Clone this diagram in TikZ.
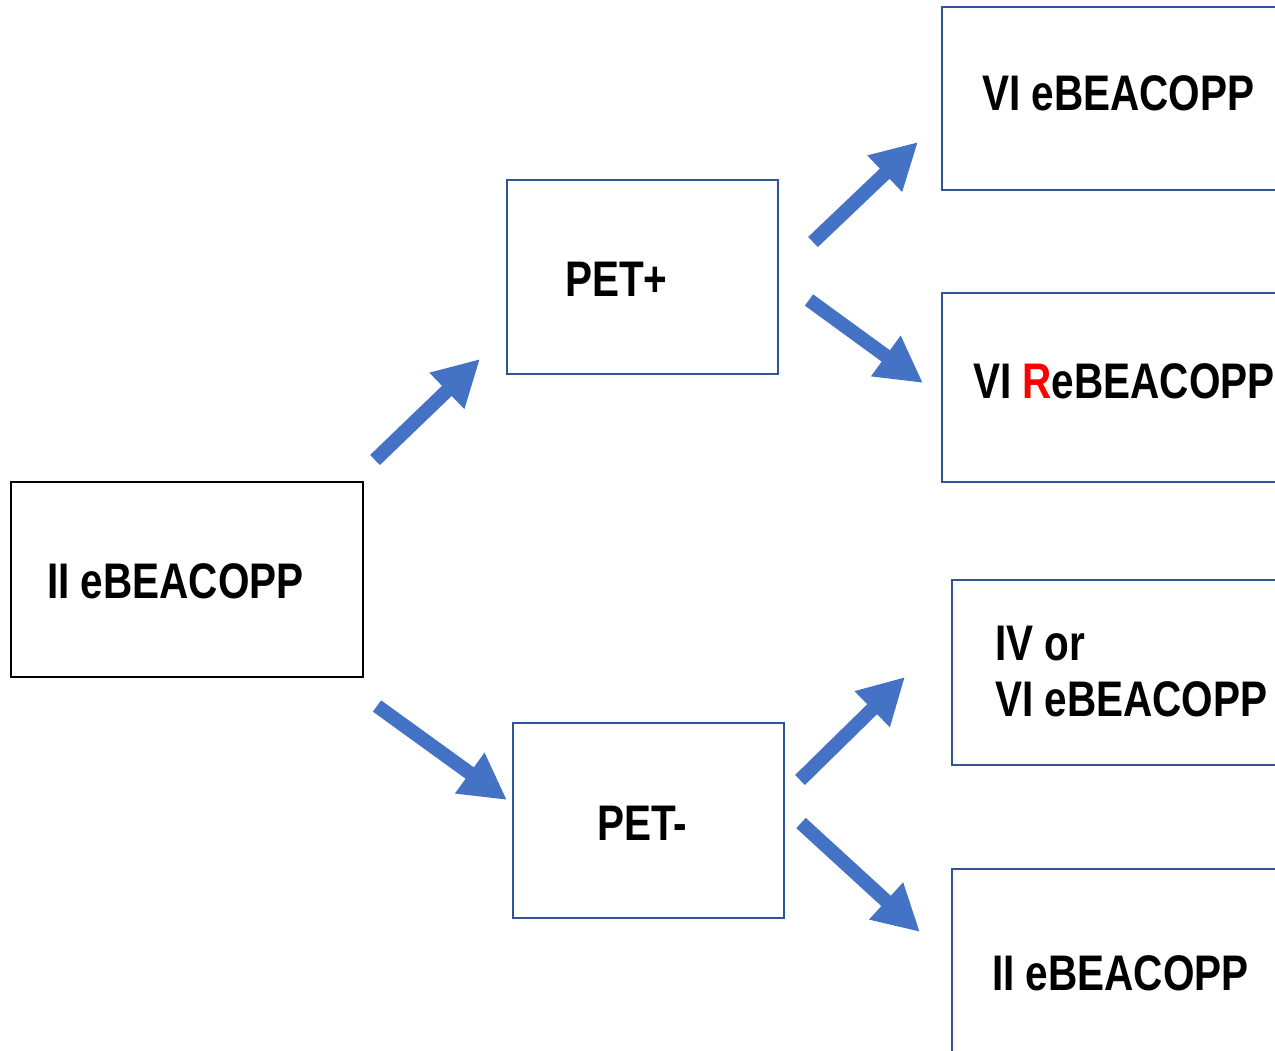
\documentclass[tikz,border=0pt]{standalone}
\usepackage{fontspec}
\setmainfont[FakeStretch=0.81]{Liberation Sans}
\usetikzlibrary{arrows.meta}
\definecolor{boxblue}{RGB}{47,85,151}
\definecolor{arrowblue}{RGB}{68,114,196}
\definecolor{redR}{RGB}{255,0,0}
\tikzset{
  bluebox/.style={draw=boxblue, line width=2.5pt, rectangle},
  blackbox/.style={draw=black, line width=2pt, rectangle},
  lbl/.style={anchor=base west, inner sep=0pt, font=\fontsize{50}{56}\selectfont\bfseries},
  bigarrow/.style={draw=arrowblue, line width=14pt, -{Triangle[width=47pt,length=46pt]}}
}
\begin{document}
\begin{tikzpicture}[x=1pt,y=-1pt]
\useasboundingbox (0,0) rectangle (1275,1051);
\clip (0,0) rectangle (1275,1051);
\fill[white] (0,0) rectangle (1275,1051);
% boxes
\node[blackbox, minimum width=352pt, minimum height=195pt] (L) at (187,579.5) {};
\node[bluebox, minimum width=271pt, minimum height=194pt] (P1) at (642.5,277) {};
\node[bluebox, minimum width=271pt, minimum height=195pt] (P2) at (648.5,820.5) {};
\node[bluebox, minimum width=380pt, minimum height=183pt] (R1) at (1132,98.5) {};
\node[bluebox, minimum width=380pt, minimum height=189pt] (R2) at (1132,387.5) {};
\node[bluebox, minimum width=370pt, minimum height=185pt] (R3) at (1137,672.5) {};
\node[bluebox, minimum width=370pt, minimum height=211pt] (R4) at (1137,974.5) {};
% texts
\node[lbl] (tL) at (47,598) {II eBEACOPP};
\node[lbl] (tP1) at (565,296) {PET+};
\node[lbl] (tP2) at (597,840) {PET-};
\node[lbl] (tR1) at (982,111) {VI eBEACOPP};
\node[lbl] (tR2) at (973,398) {VI \textcolor{redR}{R}eBEACOPP};
\node[lbl] (tR3a) at (995,660) {IV or};
\node[lbl] (tR3b) at (995,716) {VI eBEACOPP};
\node[lbl] (tR4) at (992,990) {II eBEACOPP};
% arrow end points
\coordinate (a1s) at (375,460);  \coordinate (a1e) at (480,359);
\coordinate (a2s) at (377,706);  \coordinate (a2e) at (507,800);
\coordinate (a3s) at (813,242);  \coordinate (a3e) at (918,142);
\coordinate (a4s) at (809,300);  \coordinate (a4e) at (923,383);
\coordinate (a5s) at (800,780);  \coordinate (a5e) at (905,677);
\coordinate (a6s) at (801,823);  \coordinate (a6e) at (920,932);
\draw[bigarrow] (a1s) -- (a1e);
\draw[bigarrow] (a2s) -- (a2e);
\draw[bigarrow] (a3s) -- (a3e);
\draw[bigarrow] (a4s) -- (a4e);
\draw[bigarrow] (a5s) -- (a5e);
\draw[bigarrow] (a6s) -- (a6e);
\end{tikzpicture}
\end{document}
